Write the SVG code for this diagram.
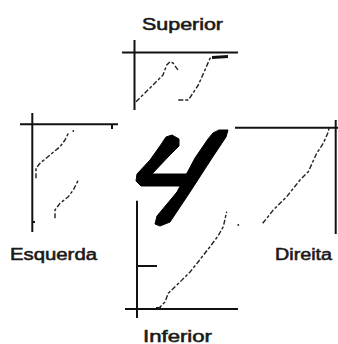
<svg xmlns="http://www.w3.org/2000/svg" width="338" height="344" viewBox="0 0 338 344">
  <style>
    .axis { stroke: #111; stroke-width: 2; fill: none; }
    .thick { stroke: #111; stroke-width: 3; fill: none; }
    .curve { stroke: #222; stroke-width: 1.4; fill: none; stroke-dasharray: 5 2 3 2; stroke-linejoin: round; }
    .dot { fill: #222; }
    .lbl { font-family: "Liberation Sans", Arial, sans-serif; font-size: 16px; font-weight: normal; fill: #1a1a1a; stroke: #1a1a1a; stroke-width: 0.55; }
    .glyph { fill: #000; stroke: #000; stroke-width: 1; stroke-linejoin: round; }
  </style>
  <rect width="338" height="344" fill="#fff"/>

  <g id="superior">
    <line class="axis" x1="134.5" y1="40" x2="134.5" y2="110"/>
    <line class="axis" x1="122" y1="52.5" x2="238" y2="52.5"/>
    <line class="thick" x1="212" y1="57.5" x2="228" y2="56.5"/>
    <polyline class="curve" points="136,101.7 150,88 163,75 166.7,65 170,61.7 173,63 178,70"/>
    <polyline class="curve" points="178.3,100 188.3,100 191.7,95 198.3,85 205,70 210,58.3 213,56.7"/>
    <text class="lbl" x="142" y="30" textLength="81" lengthAdjust="spacingAndGlyphs">Superior</text>
  </g>

  <g id="esquerda">
    <line class="axis" x1="32.3" y1="113" x2="32.3" y2="232"/>
    <line class="axis" x1="20" y1="124.3" x2="118" y2="124.3"/>
    <line class="axis" x1="112" y1="124" x2="112" y2="129"/>
    <line class="axis" x1="32" y1="222" x2="35" y2="222"/>
    <polyline class="curve" points="36,178.3 36,168.3 40,163.3 50,155 60,146.7 65,140 68.3,133.3"/>
    <circle class="dot" cx="73.3" cy="131" r="0.9"/>
    <polyline class="curve" points="55,218.3 55,210 60,203.3 68.3,196.7 73.3,190 78.3,180"/>
    <text class="lbl" x="10" y="259.5" textLength="87" lengthAdjust="spacingAndGlyphs">Esquerda</text>
  </g>

  <g id="digito">
    <polygon class="glyph" points="166,137 172,135 179,139 179,146 168,157 152,174 188,174 188,186 141,186 136,181 137,174 150,160 160,146"/>
    <polygon class="glyph" points="213,133 219,130 228,130 226,137 212,158 190,192 170,222 160,226 155,224 157,216 177,192 195,158 208,139"/>
  </g>

  <g id="direita">
    <line class="axis" x1="235" y1="127.7" x2="338" y2="127.7"/>
    <line class="axis" x1="335.7" y1="120" x2="335.7" y2="234"/>
    <polyline class="curve" points="262.7,223.3 273.3,210 286.7,196.7 300,180 308.3,171.7 316.7,153.3 323.3,143.3 328.3,132 329,128"/>
    <text class="lbl" x="275" y="260" textLength="57" lengthAdjust="spacingAndGlyphs">Direita</text>
  </g>

  <g id="inferior">
    <line class="axis" x1="137" y1="200.7" x2="137" y2="318"/>
    <line class="axis" x1="137" y1="266" x2="157" y2="266"/>
    <line class="axis" x1="125" y1="309" x2="238" y2="309"/>
    <line class="thick" x1="156" y1="308.5" x2="161" y2="308.5"/>
    <polyline class="curve" points="158,309 165,302 168.3,293.3 180,282 190,272 198.3,261.7 210,246.7 218,236 223.3,226.7 226.7,211.7"/>
    <circle class="dot" cx="238.3" cy="225" r="0.9"/>
    <text class="lbl" x="143" y="342" textLength="69" lengthAdjust="spacingAndGlyphs">Inferior</text>
  </g>
</svg>
